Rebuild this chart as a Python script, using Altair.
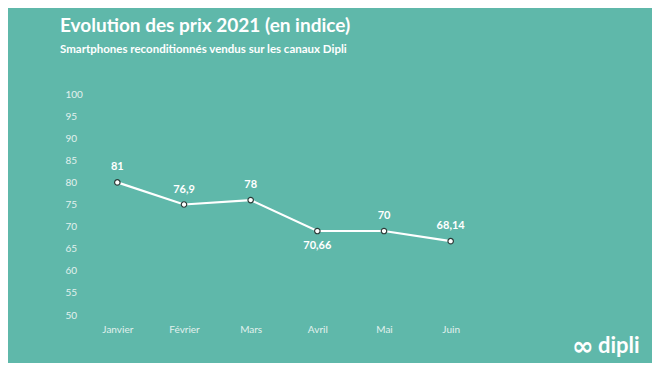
import altair as alt
import pandas as pd

months = ["Janvier", "Février", "Mars", "Avril", "Mai", "Juin"]
plotted = [80, 75, 76, 69, 69, 66.7]
labels = ["81", "76,9", "78", "70,66", "70", "68,14"]
label_pos = ["above", "above", "above", "below", "above", "above"]

df = pd.DataFrame({"mois": months, "val": plotted, "lab": labels, "pos": label_pos})

BG = "#5fb8aa"
LIGHT = "#e2f1ee"

x = alt.X("mois:N", sort=months, scale=alt.Scale(type="point", padding=0.5),
          axis=alt.Axis(title=None, labelAngle=0, domain=False, ticks=False,
                        labelPadding=9, labelColor=LIGHT, labelFontSize=10,
                        labelFont="Lato", grid=False))
y = alt.Y("val:Q", scale=alt.Scale(domain=[50, 100], nice=False, zero=False),
          axis=alt.Axis(title=None, values=list(range(50, 101, 5)), domain=False,
                        ticks=False, grid=False, labelAlign="left", labelPadding=19,
                        labelColor=LIGHT, labelFontSize=10, labelFont="Lato"))

base = alt.Chart(df).encode(x=x, y=y)
line = base.mark_line(color="white", strokeWidth=2.2)
pts = base.mark_point(filled=True, fill="white", stroke="#2b3b38", strokeWidth=1.2,
                      size=30, opacity=1)
above = base.transform_filter(alt.datum.pos == "above").mark_text(
    dy=-15, color="white", fontWeight="bold", fontSize=11, font="Lato").encode(text="lab:N")
below = base.transform_filter(alt.datum.pos == "below").mark_text(
    dy=15, color="white", fontWeight="bold", fontSize=11, font="Lato").encode(text="lab:N")

logo_df = pd.DataFrame({"t": ["dipli"], "i": ["∞"]})
logo = alt.Chart(logo_df).mark_text(align="left", baseline="middle", color="white",
                                    fontWeight="bold", fontSize=22, font="Lato").encode(
    text="t:N", x=alt.value(514), y=alt.value(252))
icon = alt.Chart(logo_df).mark_text(align="left", baseline="middle", color="white",
                                    fontWeight="bold", fontSize=26, font="DejaVu Sans").encode(
    text="i:N", x=alt.value(488), y=alt.value(253))

chart = alt.layer(line, pts, above, below, logo, icon).properties(
    width=400, height=221,
    autosize=alt.AutoSizeParams(type="none"),
    padding={"left": 76, "top": 86, "right": 168, "bottom": 48},
    background=BG,
    title=alt.TitleParams(
        text="Evolution des prix 2021 (en indice)",
        subtitle="Smartphones reconditionnés vendus sur les canaux Dipli",
        anchor="start", frame="group", dx=-24, offset=34,
        font="Lato", fontSize=19, fontWeight="bold", color="white",
        subtitleFont="Lato", subtitleFontSize=11.5, subtitleFontWeight="bold",
        subtitleColor="white", subtitlePadding=8),
).configure_view(stroke=None)

chart.save("out.html", embed_options={"renderer": "svg", "actions": False})
